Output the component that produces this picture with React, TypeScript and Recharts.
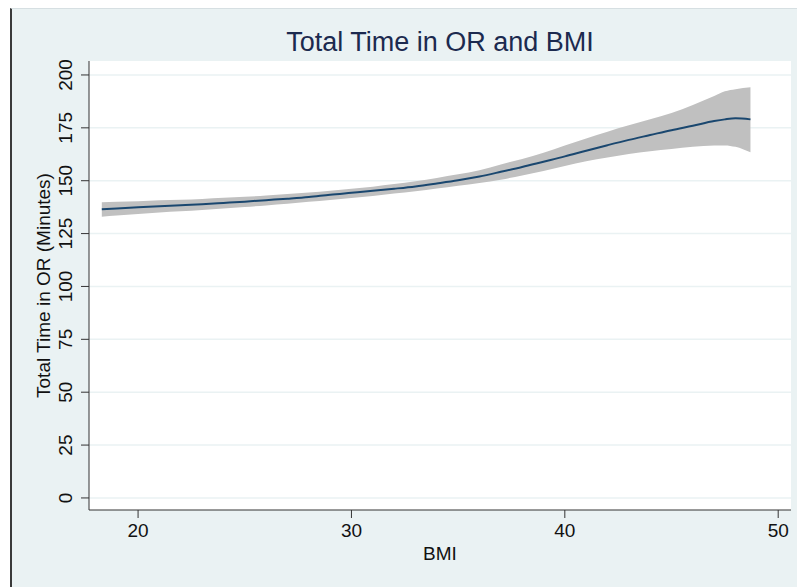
import { ComposedChart, Line, Area, XAxis, YAxis, CartesianGrid } from "recharts"

const bmi = [18.3, 19, 20, 21, 22, 23, 24, 25, 26, 27, 28, 29, 30, 31, 32, 33, 34, 35, 36, 37, 38, 39, 40, 41, 42, 43, 44, 45, 46, 47, 47.5, 48, 48.7]
const fitted = [136.5, 136.9, 137.4, 137.9, 138.4, 138.9, 139.5, 140.1, 140.8, 141.5, 142.3, 143.4, 144.3, 145.2, 146.2, 147.3, 148.7, 150.2, 152.0, 154.2, 156.5, 159.0, 161.5, 164.2, 166.8, 169.3, 171.6, 173.9, 176.0, 178.2, 179.0, 179.5, 179.0]
const lower = [133.0, 133.5, 134.3, 135.0, 135.6, 136.2, 136.9, 137.6, 138.3, 139.1, 140.0, 140.9, 141.8, 142.8, 143.9, 145.0, 146.3, 147.6, 148.9, 150.5, 152.5, 154.6, 157.0, 159.2, 161.0, 162.6, 163.9, 165.0, 166.0, 166.6, 166.7, 166.0, 163.4]
const upper = [139.8, 140.0, 140.3, 140.7, 141.0, 141.4, 141.9, 142.4, 143.0, 143.7, 144.4, 145.3, 146.2, 147.2, 148.4, 149.7, 151.3, 153.0, 155.0, 157.7, 160.3, 163.2, 166.6, 170.0, 173.2, 176.2, 179.0, 182.0, 185.8, 190.0, 192.3, 193.3, 194.2]

const xTicks = [20, 30, 40, 50]
const yTicks = [0, 25, 50, 75, 100, 125, 150, 175, 200]

const data = bmi.map((b, i) => ({ bmi: b, fit: fitted[i], band: [lower[i], upper[i]] }))

const font = "'Liberation Sans', Arial, Helvetica, sans-serif"

const XTick = (props: any) => {
  const { x, y, payload } = props
  return (
    <text x={x} y={y + 17} textAnchor="middle" fontSize={19} fontFamily={font} fill="#111">
      {payload.value}
    </text>
  )
}

const YTick = (props: any) => {
  const { x, y, payload } = props
  return (
    <text x={x - 7} y={y} transform={`rotate(-90 ${x - 7} ${y})`} textAnchor="middle" fontSize={19} fontFamily={font} fill="#111">
      {payload.value}
    </text>
  )
}

export default function App() {
  return (
    <div
      style={{
        position: "absolute",
        top: 8,
        left: 10,
        width: 785,
        height: 578,
        background: "#eaf2f3",
        borderLeft: "2px solid #3a3a3a",
        borderTop: "1px solid #d6dfe2",
      }}
    >
      <div
        style={{
          position: "absolute",
          top: 20,
          left: 0,
          width: 856,
          textAlign: "center",
          fontFamily: font,
          fontSize: 27,
          lineHeight: "27px",
          color: "#1c2a4f",
        }}
      >
        Total Time in OR and BMI
      </div>
      <ComposedChart width={785} height={578} data={data} margin={{ top: 52, right: 6, left: 0, bottom: 27 }}>
        <CartesianGrid vertical={false} stroke="#eaf2f3" strokeWidth={1.5} fill="#ffffff" horizontalValues={yTicks} />
        <XAxis
          dataKey="bmi"
          type="number"
          domain={[17.7, 50.6]}
          ticks={xTicks}
          height={50}
          tickSize={8}
          tick={<XTick />}
          stroke="#333"
          allowDataOverflow
          label={{ value: "BMI", position: "insideBottom", offset: 0, fontSize: 19, fontFamily: font, fill: "#111" }}
        />
        <YAxis
          type="number"
          domain={[-5.7, 206.6]}
          ticks={yTicks}
          width={77}
          tickSize={8}
          tick={<YTick />}
          stroke="#333"
          allowDataOverflow
          label={(p: any) => {
            const vb = p.viewBox
            const cx = 38
            const cy = vb.y + vb.height / 2
            return (
              <text x={cx} y={cy} transform={`rotate(-90 ${cx} ${cy})`} textAnchor="middle" fontSize={19} fontFamily={font} fill="#111">
                Total Time in OR (Minutes)
              </text>
            )
          }}
        />
        <Area dataKey="band" type="monotone" stroke="none" fill="#c0c0c0" fillOpacity={1} isAnimationActive={false} />
        <Line dataKey="fit" type="monotone" stroke="#1a476f" strokeWidth={2} dot={false} isAnimationActive={false} />
      </ComposedChart>
    </div>
  )
}
